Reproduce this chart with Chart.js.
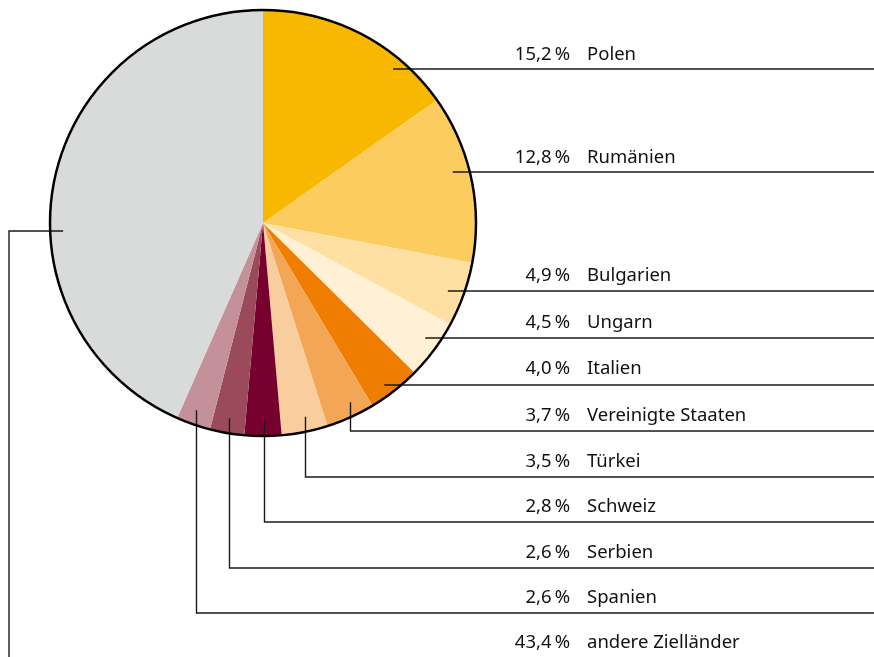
<!DOCTYPE html>
<html>
<head>
<meta charset="utf-8">
<script src="https://cdn.jsdelivr.net/npm/chart.js@4"></script>
<style>
  html, body { margin: 0; padding: 0; background: #fff; }
  #wrap { width: 874px; height: 657px; }
</style>
</head>
<body>
<div id="wrap"><canvas id="myChart" width="874" height="657"></canvas></div>
<script>
var laender = ["Polen", "Rumänien", "Bulgarien", "Ungarn", "Italien", "Vereinigte Staaten",
               "Türkei", "Schweiz", "Serbien", "Spanien", "andere Zielländer"];
var anteile = [15.2, 12.8, 4.9, 4.5, 4.0, 3.7, 3.5, 2.8, 2.6, 2.6, 43.4];
var farben = ["#F9B800", "#FDCC5E", "#FEE0A3", "#FFF0D6", "#EE7D00", "#F3A655",
              "#F9CD9E", "#78002F", "#9A4A5B", "#C4909A", "#D9DADA"];

// y of the horizontal rule under each label (layout only)
var linienY = [69, 172, 291, 338, 385, 431, 477, 522, 568, 613, 231];
var textY = [55, 158, 276, 323, 369, 416, 462, 507, 553, 598, 643];

var beschriftung = {
    id: "beschriftung",
    afterDatasetsDraw: function (chart) {
        var ctx = chart.ctx;
        var arcs = chart.getDatasetMeta(0).data;
        var cx = arcs[0].x, cy = arcs[0].y, r = arcs[0].outerRadius;
        var rechts = chart.width;

        ctx.save();
        // leader lines
        ctx.strokeStyle = "#1a1a1a";
        ctx.lineWidth = 1.4;
        arcs.forEach(function (arc, i) {
            var y = linienY[i];
            ctx.beginPath();
            if (i < 5) {
                var x0 = cx + Math.sqrt(r * r - (y - cy) * (y - cy)) - 17;
                ctx.moveTo(x0, y);
                ctx.lineTo(rechts, y);
            } else if (i < 10) {
                var a = (arc.startAngle + arc.endAngle) / 2;
                var px = Math.round(cx + Math.cos(a) * (r - 4) + 1) + 0.5;
                var py = cy + Math.sqrt(r * r - (px - cx) * (px - cx)) - 15;
                ctx.moveTo(px, py);
                ctx.lineTo(px, y);
                ctx.lineTo(rechts, y);
            } else {
                var xl = cx - Math.sqrt(r * r - (y - cy) * (y - cy)) + 13;
                ctx.moveTo(xl, y);
                ctx.lineTo(9, y);
                ctx.lineTo(9, chart.height);
            }
            ctx.stroke();
        });

        // outer circle
        ctx.beginPath();
        ctx.arc(cx, cy, r, 0, Math.PI * 2);
        ctx.strokeStyle = "#000";
        ctx.lineWidth = 2.5;
        ctx.stroke();

        // labels
        ctx.fillStyle = "#111";
        ctx.font = "18.5px 'Noto Sans', sans-serif";
        ctx.textBaseline = "middle";
        laender.forEach(function (name, i) {
            ctx.textAlign = "right";
            ctx.fillText(anteile[i].toFixed(1).replace(".", ",") + "\u2009%", 570, textY[i]);
            ctx.textAlign = "left";
            ctx.fillText(name, 587, textY[i]);
        });
        ctx.restore();
    }
};

var ctx = document.getElementById("myChart").getContext("2d");
var myChart = new Chart(ctx, {
    type: "pie",
    data: {
        labels: laender,
        datasets: [
            {
                label: "Anteil",
                data: anteile,
                backgroundColor: farben,
                borderWidth: 0,
                hoverOffset: 0
            }
        ]
    },
    options: {
        responsive: false,
        animation: false,
        layout: {
            padding: { left: 50, top: 10, right: 398, bottom: 221 }
        },
        plugins: {
            legend: { display: false },
            tooltip: { enabled: false }
        }
    },
    plugins: [beschriftung]
});
</script>
</body>
</html>
